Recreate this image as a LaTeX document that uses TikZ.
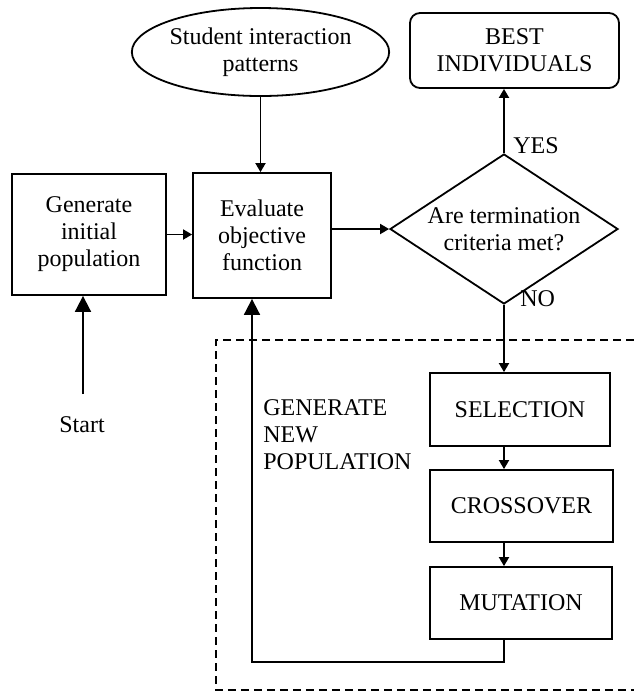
\documentclass[tikz,border=0pt]{standalone}
\usepackage{fontspec}
\setmainfont{Liberation Serif}
\usetikzlibrary{arrows.meta,shapes.geometric}
\begin{document}
\begin{tikzpicture}[x=0.5pt, y=-0.5pt,
        every node/.style={font=\fontsize{12}{13.5}\selectfont},
        box/.style={rectangle, draw, line width=0.9pt, align=center},
        arrow/.style={-{Triangle[length=4.5pt,width=5pt]}, line width=0.9pt},
        bigarrow/.style={-{Triangle[length=8pt,width=8pt]}, line width=0.9pt}
    ]
    \useasboundingbox (0,0) rectangle (634,693);
    \node[box, minimum width=77pt, minimum height=60.5pt] (gen) at (89,234.5) {Generate\\initial\\population};
    \node[box, minimum width=69pt, minimum height=62.5pt] (eval) at (262,235.5) {Evaluate\\objective\\function};
    \node[ellipse, draw, line width=0.9pt, align=center, inner sep=0pt, minimum width=112.5pt, minimum height=44pt] (pat) at (260.5,52) {Student interaction\\patterns};
    \node[diamond, draw, line width=0.9pt, align=center, inner sep=0pt, aspect=1.52, minimum width=114pt, minimum height=75pt] (dec) at (504,229) {Are termination\\criteria met?};
    \node[box, rounded corners=5pt, minimum width=104.5pt, minimum height=37.5pt] (best) at (514.5,50.5) {BEST\\INDIVIDUALS};
    \node[box, minimum width=90pt, minimum height=36.5pt] (sel) at (520,409.5) {SELECTION};
    \node[box, minimum width=91.5pt, minimum height=36pt] (cro) at (521.5,506) {CROSSOVER};
    \node[box, minimum width=91pt, minimum height=36pt] (mut) at (521,603) {MUTATION};
    \node[anchor=base] (start) at (82,432) {Start};
    \node[anchor=base west, inner sep=0pt] (yes) at (513,153) {YES};
    \node[anchor=base west, inner sep=0pt] (no) at (520,306) {NO};
    \node[anchor=north west, align=left, inner sep=0pt] (newpop) at (263,399) {GENERATE\\NEW\\POPULATION};
    \coordinate (startpt) at (83,394);
    \coordinate (loop) at (252,662);
    % dashed frame of the new population part
    \draw[dashed, dash pattern=on 4pt off 2.5pt, line width=0.7pt] (634,340) -- (216,340) -- (216,690) -- (634,690);
    \draw[bigarrow] (startpt) -- (startpt |- gen.south);
    \draw[arrow] (gen.east) -- (gen.east -| eval.west);
    \draw[arrow] (pat.south) -- (pat.south |- eval.north);
    \draw[arrow] (eval.east |- dec.west) -- (dec.west);
    \draw[arrow] (dec.north) -- (dec.north |- best.south);
    \draw[arrow] (dec.south) -- (dec.south |- sel.north);
    \draw[arrow] (dec.south |- sel.south) -- (dec.south |- cro.north);
    \draw[arrow] (dec.south |- cro.south) -- (dec.south |- mut.north);
    \draw[bigarrow] (dec.south |- mut.south) -- (loop -| dec.south) -- (loop) -- (loop |- eval.south);
    \end{tikzpicture}
\end{document}
